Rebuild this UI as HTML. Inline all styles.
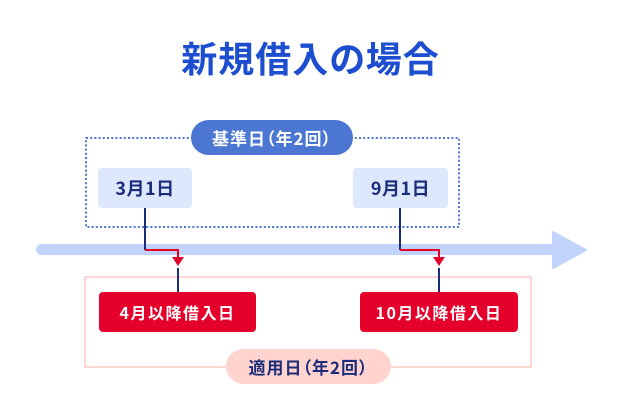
<!DOCTYPE html>
<html><head><meta charset="utf-8">
<style>
html,body{margin:0;padding:0;background:#fff;}
body{width:621px;height:414px;position:relative;overflow:hidden;font-family:"Liberation Sans","Noto Sans CJK JP",sans-serif;}
.abs{position:absolute;display:flex;align-items:center;justify-content:center;box-sizing:border-box;font-feature-settings:"palt";white-space:nowrap;font-family:"Noto Sans CJK JP",sans-serif;}
.title{left:0;top:34px;width:621px;height:46px;font-size:36px;font-weight:700;color:#1c4ecf;letter-spacing:1px;}
.pill1{left:191px;top:120px;width:162px;height:35px;border-radius:18px;background:#4b77d3;color:#fff;font-size:17px;font-weight:700;letter-spacing:1px;}
.pill2{left:226px;top:349px;width:165px;height:35px;border-radius:18px;background:#ffd4ce;color:#1b2d7a;font-size:17px;font-weight:700;letter-spacing:1px;}
.lb{top:168px;height:40px;border-radius:4px;background:#dee8fc;color:#1b2d7a;font-size:18px;font-weight:700;letter-spacing:0.5px;}
.rb{top:292px;height:40px;border-radius:4px;background:#e4002b;color:#fff;font-size:16px;font-weight:700;letter-spacing:1.5px;}
</style></head><body>
<svg width="621" height="414" style="position:absolute;left:0;top:0">
  <!-- dotted box -->
  <rect x="86" y="138" width="373" height="89" fill="none" stroke="#4b77d3" stroke-width="2" stroke-dasharray="2 2.2"/>
  <!-- pink box -->
  <rect x="85" y="277" width="446" height="90" fill="none" stroke="#fdd8d2" stroke-width="2"/>
  <!-- timeline -->
  <rect x="36" y="244" width="520" height="11" rx="5.5" fill="#c1d3fb"/>
  <polygon points="553,232 586,250 553,268" fill="#c1d3fb" stroke="#c1d3fb" stroke-width="2" stroke-linejoin="round"/>
  <!-- left connector -->
  <line x1="145" y1="208" x2="145" y2="250" stroke="#1b2d7a" stroke-width="2"/>
  <polyline points="145,250 178,250 178,258" fill="none" stroke="#e4002b" stroke-width="2"/>
  <polygon points="172,257 184,257 178,266" fill="#e4002b"/>
  <line x1="178" y1="268" x2="178" y2="292" stroke="#1b2d7a" stroke-width="2"/>
  <!-- right connector -->
  <line x1="400" y1="208" x2="400" y2="250" stroke="#1b2d7a" stroke-width="2"/>
  <polyline points="400,250 439,250 439,258" fill="none" stroke="#e4002b" stroke-width="2"/>
  <polygon points="433,257 445,257 439,266" fill="#e4002b"/>
  <line x1="439" y1="268" x2="439" y2="292" stroke="#1b2d7a" stroke-width="2"/>
</svg>
<div class="abs title">新規借入の場合</div>
<div class="abs pill1">基準日（年2回）</div>
<div class="abs lb" style="left:98px;width:94px;">3月1日</div>
<div class="abs lb" style="left:353px;width:95px;">9月1日</div>
<div class="abs rb" style="left:99px;width:157px;">4月以降借入日</div>
<div class="abs rb" style="left:360px;width:158px;">10月以降借入日</div>
<div class="abs pill2">適用日（年2回）</div>
</body></html>
